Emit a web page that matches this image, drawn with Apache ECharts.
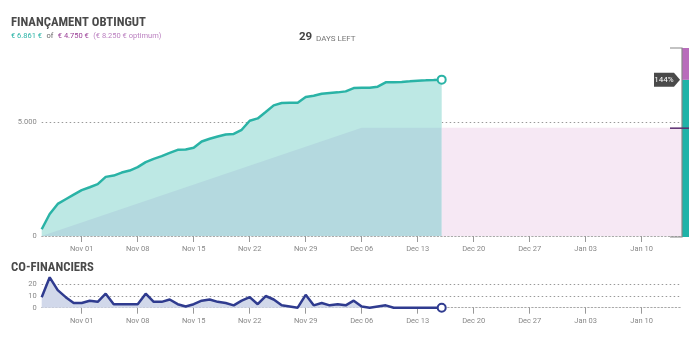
<!DOCTYPE html>
<html><head><meta charset="utf-8">
<script src="https://cdn.jsdelivr.net/npm/echarts@6/dist/echarts.min.js"></script>
<style>html,body{margin:0;padding:0;background:#fff}#c{width:700px;height:343px}</style>
</head><body><div id="c"></div>
<script>
// ---------- data ----------
const startDay = [2016, 9, 27];           // Oct 27
const dayCount = 81;                      // Oct 27 .. Jan 15
const tickLabels = ['Nov 01','Nov 08','Nov 15','Nov 22','Nov 29','Dec 06','Dec 13','Dec 20','Dec 27','Jan 03','Jan 10'];
const funding = [295,967,1407,1614,1816,2010,2141,2273,2595,2652,2784,2872,3021,3241,3386,3505,3650,3782,3795,3870,
  4147,4266,4367,4455,4480,4661,5057,5160,5440,5731,5834,5849,5849,6099,6156,6244,6274,6303,6347,6493,
  6508,6508,6552,6742,6742,6757,6786,6816,6830,6845,6861];
const cofinanciers = [9,26,15,9,4,4,6,5,12,3,3,3,3,12,5,5,7,3,1,3,6,7,5,4,2,6,9,3,10,7,2,1,0,11,2,4,2,3,2,6,
  1,0,1,2,0,0,0,0,0,0,0];
const goal = 4750;
const optimum = 8250;
const daysLeft = 29;
const targetPast = [['Oct 27', 0], ['Dec 06', goal], ['Dec 16', goal]];
const targetFuture = [['Dec 16', goal], ['Jan 15', goal]];

// ---------- helpers ----------
const MONTHS = ['Jan','Feb','Mar','Apr','May','Jun','Jul','Aug','Sep','Oct','Nov','Dec'];
const categories = [];
for (let i = 0; i < dayCount; i++) {
  const d = new Date(Date.UTC(startDay[0], startDay[1], startDay[2] + i));
  categories.push(MONTHS[d.getUTCMonth()] + ' ' + String(d.getUTCDate()).padStart(2, '0'));
}
const fmt = n => String(n).replace(/\B(?=(\d{3})+(?!\d))/g, '.');
const funded = funding[funding.length - 1];
const pct = Math.round(funded / goal * 100);
const showTick = (i, v) => tickLabels.indexOf(v) >= 0;

const FONT = 'Roboto';
const HFONT = '"Liberation Sans Narrow", "Roboto Condensed", Roboto';
const TEAL = '#2ab3a6', NAVY = '#2f3b8f';

const xCommon = {
  type: 'category', data: categories, boundaryGap: false,
  axisLine: { lineStyle: { color: '#aaa', type: [1.5, 2], width: 1 } },
  axisTick: { interval: showTick, length: 6, lineStyle: { color: '#999' } },
  axisLabel: { interval: showTick, fontSize: 7.5, color: '#888', margin: 9, fontFamily: FONT },
  splitLine: { show: false }
};
const richBase = { fontSize: 7.5, fontWeight: 'normal', fontFamily: FONT };

const chart = echarts.init(document.getElementById('c'), null, { renderer: 'canvas' });
chart.setOption({
  animation: false,
  textStyle: { fontFamily: FONT },
  title: [
    { text: 'FINANÇAMENT OBTINGUT', left: 6, top: 11, textStyle: { fontSize: 12.7, fontWeight: 'bold', color: '#4a4a4a', fontFamily: HFONT } },
    { text: '{a|€ ' + fmt(funded) + ' €} {b|of} {c|€ ' + fmt(goal) + ' €} {d|(€ ' + fmt(optimum) + ' € optimum)}',
      left: 6, top: 22.5,
      textStyle: { fontWeight: 'normal', rich: {
        a: Object.assign({ color: TEAL }, richBase),
        b: Object.assign({ color: '#666' }, richBase),
        c: Object.assign({ color: '#9a3f96' }, richBase),
        d: Object.assign({ color: '#bb80c0' }, richBase) } } },
    { text: String(daysLeft), left: 294, top: 26, textStyle: { fontSize: 11.5, fontWeight: 'bold', color: '#444', fontFamily: FONT } },
    { text: 'DAYS LEFT', left: 311, top: 29.5, textStyle: { fontSize: 8, color: '#777', fontWeight: 'normal', fontFamily: FONT } },
    { text: 'CO-FINANCIERS', left: 6, top: 256, textStyle: { fontSize: 12.7, fontWeight: 'bold', color: '#4a4a4a', fontFamily: HFONT } }
  ],
  grid: [
    { left: 41.7, width: 640, top: 48, height: 188 },
    { left: 41.7, width: 640, top: 277.3, height: 30.4 },
    { left: 682, width: 7, top: 48, height: 189 }
  ],
  xAxis: [
    Object.assign({ gridIndex: 0 }, xCommon),
    Object.assign({ gridIndex: 1 }, xCommon),
    { gridIndex: 2, type: 'category', data: ['total'], show: false }
  ],
  yAxis: [
    { gridIndex: 0, type: 'value', min: 0, max: optimum, interval: 5000,
      axisLine: { show: false }, axisTick: { show: false },
      axisLabel: { fontSize: 7.5, color: '#888', margin: 5, showMaxLabel: false, formatter: v => fmt(v) },
      splitLine: { show: true, showMinLine: false, showMaxLine: false, lineStyle: { color: '#999', type: [1.5, 2.5] } } },
    { gridIndex: 1, type: 'value', min: 0, max: 'dataMax', interval: 10,
      axisLine: { show: false }, axisTick: { show: false },
      axisLabel: { fontSize: 7.5, color: '#888', margin: 5, showMaxLabel: false },
      splitLine: { show: true, showMinLine: false, showMaxLine: false, lineStyle: { color: '#999', type: [1.5, 2.5] } } },
    { gridIndex: 2, type: 'value', min: 0, max: optimum, show: false }
  ],
  series: [
    { name: 'fundArea', type: 'line', xAxisIndex: 0, yAxisIndex: 0, data: funding, showSymbol: false, symbol: 'none',
      lineStyle: { width: 0 }, areaStyle: { color: '#bde8e4', opacity: 1 }, z: 1 },
    { name: 'targetPast', type: 'line', xAxisIndex: 0, yAxisIndex: 0, data: targetPast, symbol: 'none',
      lineStyle: { width: 0 }, areaStyle: { color: '#b4d9df', opacity: 1 }, z: 2 },
    { name: 'targetFuture', type: 'line', xAxisIndex: 0, yAxisIndex: 0, data: targetFuture, symbol: 'none',
      lineStyle: { width: 0 }, areaStyle: { color: '#f6e8f4', opacity: 1 }, z: 2 },
    { name: 'funding', type: 'line', xAxisIndex: 0, yAxisIndex: 0, data: funding, showAllSymbol: true,
      symbol: 'circle', symbolSize: (v, p) => p.dataIndex === funding.length - 1 ? 8 : 0,
      lineStyle: { color: TEAL, width: 2.5 }, itemStyle: { color: '#fff', borderColor: TEAL, borderWidth: 2 }, z: 3 },
    { name: 'cofinanciers', type: 'line', xAxisIndex: 1, yAxisIndex: 1, data: cofinanciers, showAllSymbol: true,
      symbol: 'circle', symbolSize: (v, p) => p.dataIndex === cofinanciers.length - 1 ? 8 : 0,
      lineStyle: { color: NAVY, width: 2.5 }, areaStyle: { color: '#d1d8ea', opacity: 1 },
      itemStyle: { color: '#fff', borderColor: NAVY, borderWidth: 2 }, z: 3 },
    { name: 'funded', type: 'bar', xAxisIndex: 2, yAxisIndex: 2, stack: 'total', barWidth: '100%',
      data: [funded], itemStyle: { color: '#1fb3a8' } },
    { name: 'remaining', type: 'bar', xAxisIndex: 2, yAxisIndex: 2, stack: 'total', barWidth: '100%',
      data: [optimum - funded], itemStyle: { color: '#b86cbb' } },
    { name: 'bracket', type: 'custom', xAxisIndex: 2, yAxisIndex: 2, z: 5,
      data: [[0, optimum, goal, funded]], encode: { x: 0, y: [1, 2, 3] },
      renderItem: function (params, api) {
        const top = api.coord([0, api.value(1)]);
        const tg = api.coord([0, api.value(2)]);
        const cur = api.coord([0, api.value(3)]);
        const bot = api.coord([0, 0]);
        const half = api.size([1, 0])[0] / 2;
        const lx = top[0] - half;
        return { type: 'group', children: [
          { type: 'polyline', shape: { points: [[lx - 12, top[1]], [lx, top[1]], [lx, bot[1]], [lx - 12, bot[1]]] },
            style: { stroke: '#888', lineWidth: 1.2, fill: null } },
          { type: 'line', shape: { x1: lx - 12, y1: tg[1], x2: lx + half * 2, y2: tg[1] },
            style: { stroke: '#5a2d6e', lineWidth: 1.5 } },
          { type: 'polygon', shape: { points: [[lx - 28, cur[1] - 7], [lx - 8, cur[1] - 7], [lx - 2, cur[1]], [lx - 8, cur[1] + 7], [lx - 28, cur[1] + 7]] },
            style: { fill: '#4a4a4a' } },
          { type: 'text', style: { text: pct + '%', x: lx - 18, y: cur[1], align: 'center', verticalAlign: 'middle',
            fill: '#fff', fontSize: 8, fontFamily: FONT } }
        ] };
      } }
  ]
});
</script></body></html>
